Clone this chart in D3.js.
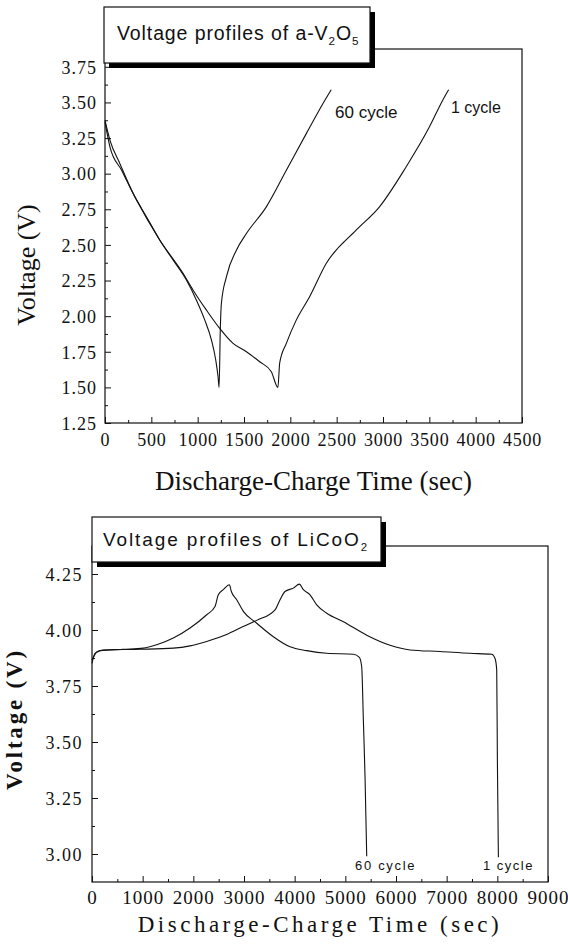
<!DOCTYPE html>
<html><head><meta charset="utf-8">
<script src="https://cdn.jsdelivr.net/npm/d3@7"></script>
<style>body{margin:0;background:#fff}svg{display:block}</style>
</head><body>
<svg id="c" width="568" height="944"></svg>
<script>
// ---------- DATA ----------
// Top chart: a-V2O5
const v2o5Cycle60Time = [0,54,161,305,449,592,736,880,987,1077,1149,1195,1220,1231,1245,1256,1310,1418,1526,1741,1957,2172,2351,2441];
const v2o5Cycle60Volt = [3.374,3.234,3.070,2.860,2.696,2.533,2.393,2.252,2.112,1.972,1.832,1.692,1.575,1.50,1.925,2.089,2.276,2.463,2.58,2.767,3.024,3.281,3.491,3.589];
const v2o5Cycle1Time = [0,54,179,341,592,844,951,1095,1238,1382,1526,1669,1795,1866,1885,1957,2064,2208,2387,2710,2962,3249,3500,3643,3708];
const v2o5Cycle1Volt = [3.362,3.187,3.024,2.813,2.533,2.299,2.182,2.042,1.914,1.809,1.75,1.68,1.61,1.50,1.67,1.809,1.972,2.136,2.369,2.603,2.767,3.047,3.327,3.514,3.589];
const v2o5XTicks = [0,500,1000,1500,2000,2500,3000,3500,4000,4500];
const v2o5YTicks = [1.25,1.50,1.75,2.00,2.25,2.50,2.75,3.00,3.25,3.50,3.75];

// Bottom chart: LiCoO2
const licoCycle60Time = [0,59,158,618,1013,1277,1605,1935,2264,2428,2493,2592,2711,2750,2856,2987,3251,3579,3909,4238,4633,5158,5277,5323,5356,5389,5422];
const licoCycle60Volt = [3.851,3.896,3.908,3.914,3.919,3.934,3.964,4.009,4.068,4.105,4.157,4.18,4.202,4.172,4.135,4.083,4.03,3.97,3.925,3.908,3.896,3.892,3.878,3.836,3.597,3.344,2.99];
const licoCycle1Time = [0,92,224,948,1605,1935,2264,2592,2922,3251,3612,3711,3810,3974,4093,4172,4303,4435,4633,4962,5422,5883,6277,6870,7462,7890,7955,7988,8001,8021];
const licoCycle1Volt = [3.866,3.90,3.911,3.914,3.919,3.929,3.949,3.974,4.009,4.043,4.09,4.135,4.172,4.187,4.205,4.18,4.157,4.112,4.075,4.037,3.977,3.932,3.911,3.904,3.896,3.892,3.873,3.821,3.418,2.986];
const licoXTicks = [0,1000,2000,3000,4000,5000,6000,7000,8000,9000];
const licoYTicks = [3.00,3.25,3.50,3.75,4.00,4.25];

const svg = d3.select("#c");
const ink = "#111";

function zip(t, v){ return t.map((d,i)=>[d, v[i]]); }

function drawChart(cfg){
  const g = svg.append("g");
  const x = d3.scaleLinear().domain(cfg.xDomain).range([cfg.left, cfg.right]);
  const y = d3.scaleLinear().domain(cfg.yDomain).range([cfg.bottom, cfg.top]);

  // frame
  g.append("rect").attr("x", cfg.left).attr("y", cfg.top)
    .attr("width", cfg.right-cfg.left).attr("height", cfg.bottom-cfg.top)
    .attr("fill","none").attr("stroke", ink).attr("stroke-width",1.2);

  // minor ticks
  const yAx = d3.axisLeft(y).tickValues(cfg.yMinor).tickSize(-3).tickFormat("");
  g.append("g").attr("transform",`translate(${cfg.left},0)`).call(yAx).call(s=>s.select(".domain").remove())
    .selectAll("line").attr("stroke", ink);
  const xAx = d3.axisBottom(x).tickValues(cfg.xMinor).tickSize(-3).tickFormat("");
  g.append("g").attr("transform",`translate(0,${cfg.bottom})`).call(xAx).call(s=>s.select(".domain").remove())
    .selectAll("line").attr("stroke", ink);

  // major ticks with labels
  const yMaj = d3.axisLeft(y).tickValues(cfg.yTicks).tickSize(-6).tickPadding(cfg.yPad).tickFormat(d3.format(".2f"));
  const yg = g.append("g").attr("transform",`translate(${cfg.left},0)`).call(yMaj);
  yg.select(".domain").remove();
  yg.selectAll("line").attr("stroke", ink);
  yg.selectAll("text").attr("font-family", "Liberation Serif").attr("font-size", cfg.tickFont)
    .attr("letter-spacing", cfg.tickLs).attr("fill", ink).attr("dy", cfg.yDy);

  const xMaj = d3.axisBottom(x).tickValues(cfg.xTicks).tickSize(-6).tickPadding(cfg.xPad).tickFormat(d3.format("d"));
  const xg = g.append("g").attr("transform",`translate(0,${cfg.bottom})`).call(xMaj);
  xg.select(".domain").remove();
  xg.selectAll("line").attr("stroke", ink);
  xg.selectAll("text").attr("font-family", "Liberation Serif").attr("font-size", cfg.xTickFont)
    .attr("letter-spacing", cfg.xTickLs).attr("fill", ink);

  // lines
  const line = d3.line().curve(d3.curveMonotoneX).x(d=>x(d[0])).y(d=>y(d[1]));
  cfg.series.forEach(s=>{
    g.append("path").datum(zip(s.t, s.v)).attr("d", line)
      .attr("fill","none").attr("stroke", ink).attr("stroke-width",1.1);
  });

  // axis titles
  g.append("text").attr("x", (cfg.left+cfg.right)/2).attr("y", cfg.xTitleY)
    .attr("text-anchor","middle").attr("font-family","Liberation Serif")
    .attr("font-size", cfg.xTitleSize).attr("letter-spacing", cfg.xTitleLs).attr("fill", ink)
    .text("Discharge-Charge Time (sec)");
  g.append("text").attr("transform",`translate(${cfg.yTitleX},${cfg.yTitleCY}) rotate(-90)`)
    .attr("text-anchor","middle").attr("font-family","Liberation Serif")
    .attr("font-size", cfg.yTitleSize).attr("letter-spacing", cfg.yTitleLs)
    .attr("font-weight", cfg.yTitleWeight).attr("fill", ink)
    .text("Voltage (V)");

  // title box with shadow
  const b = cfg.box;
  g.append("rect").attr("x", b.x+5).attr("y", b.y+5).attr("width", b.w).attr("height", b.h).attr("fill", "#000");
  g.append("rect").attr("x", b.x).attr("y", b.y).attr("width", b.w).attr("height", b.h)
    .attr("fill", "#fff").attr("stroke", ink).attr("stroke-width", 1.2);
  const tt = g.append("text").attr("x", b.tx).attr("y", b.ty).attr("font-family","Liberation Sans")
    .attr("font-size", b.size).attr("letter-spacing", b.ls).attr("fill", ink);
  b.parts.forEach(p=>{
    const ts = tt.append("tspan").text(p.text);
    if (p.sub) ts.attr("font-size", b.size*0.6).attr("dy", 5);
    else if (p.after) ts.attr("dy", -5);
  });

  // cycle labels
  cfg.labels.forEach(l=>{
    g.append("text").attr("x", l.x).attr("y", l.y).attr("font-family","Liberation Sans")
      .attr("font-size", l.size).attr("letter-spacing", l.ls).attr("fill", ink).text(l.text);
  });
}

drawChart({
  xDomain:[0,4500], yDomain:[1.25,3.875], left:105, right:522, top:49, bottom:423,
  xTicks: v2o5XTicks, yTicks: v2o5YTicks,
  xMinor: d3.range(250,4500,500), yMinor: d3.range(1.375,3.8,0.25),
  tickFont:18, tickLs:1, yPad:8, yDy:"0.35em", xTickFont:18, xTickLs:0.8, xPad:10,
  xTitleY:490, xTitleSize:27, xTitleLs:0,
  yTitleX:35, yTitleCY:265, yTitleSize:26, yTitleLs:0, yTitleWeight:"normal",
  series:[{t:v2o5Cycle60Time, v:v2o5Cycle60Volt},{t:v2o5Cycle1Time, v:v2o5Cycle1Volt}],
  box:{x:104,y:7,w:266,h:56,tx:117,ty:40,size:19.5,ls:0.9,
       parts:[{text:"Voltage profiles of a-V"},{text:"2",sub:true},{text:"O",after:true},{text:"5",sub:true}]},
  labels:[{x:335,y:118,size:17,ls:0,text:"60 cycle"},{x:451,y:113,size:16,ls:0,text:"1 cycle"}]
});

drawChart({
  xDomain:[0,9000], yDomain:[2.875,4.375], left:92, right:548, top:546, bottom:882,
  xTicks: licoXTicks, yTicks: licoYTicks,
  xMinor: d3.range(500,9000,1000), yMinor: d3.range(3.125,4.3,0.25),
  tickFont:18, tickLs:1.5, yPad:9, yDy:"0.35em", xTickFont:19, xTickLs:1, xPad:9,
  xTitleY:932, xTitleSize:23, xTitleLs:3.5,
  yTitleX:22, yTitleCY:719, yTitleSize:23, yTitleLs:2.8, yTitleWeight:"bold",
  series:[{t:licoCycle60Time, v:licoCycle60Volt},{t:licoCycle1Time, v:licoCycle1Volt}],
  box:{x:92,y:517,w:289,h:45,tx:103,ty:546,size:19,ls:1.9,
       parts:[{text:"Voltage profiles of LiCoO"},{text:"2",sub:true}]},
  labels:[{x:355,y:870,size:13,ls:1.7,text:"60 cycle"},{x:483,y:870,size:13,ls:1.5,text:"1 cycle"}]
});
</script>
</body></html>
